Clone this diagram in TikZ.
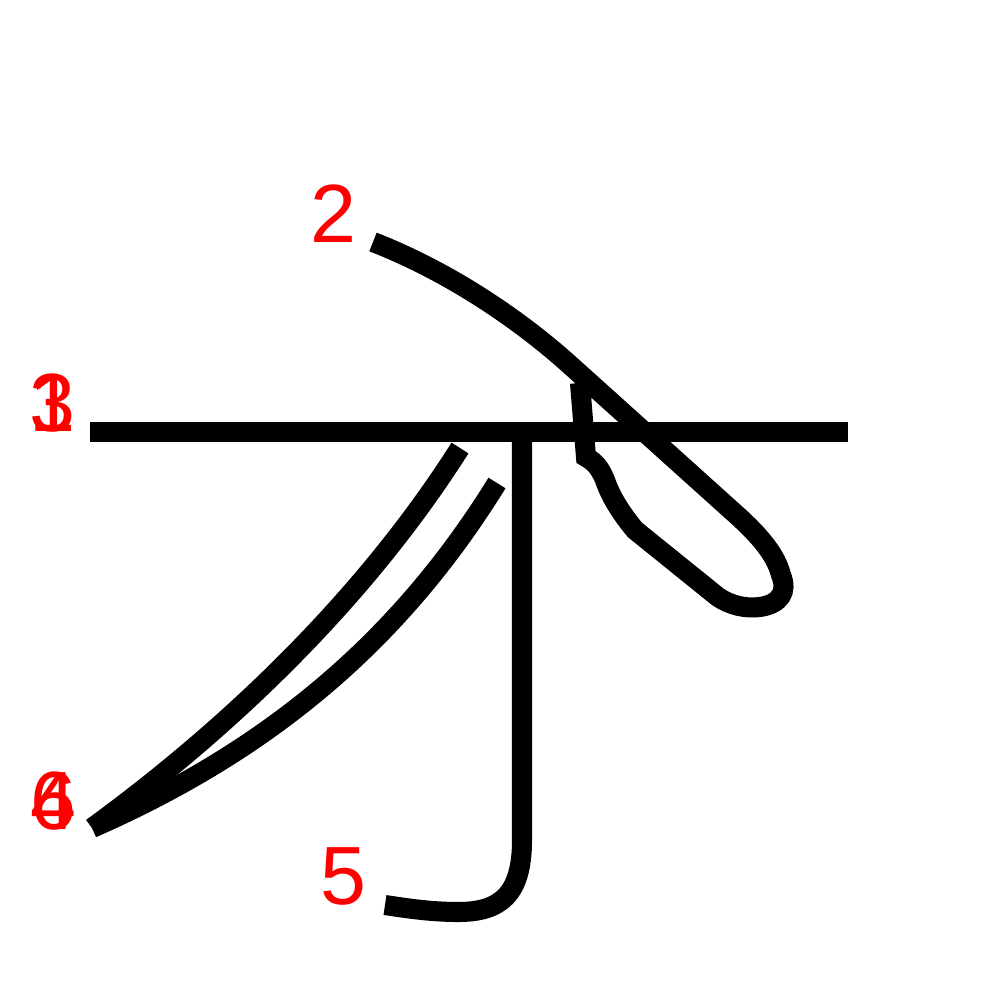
\documentclass[tikz,border=0pt]{standalone}
\usepackage{fontspec}
\setmainfont{Liberation Sans}
\usetikzlibrary{positioning}

\begin{document}
\begin{tikzpicture}[
  x=0.01cm, y=-0.01cm,
  stroke/.style={draw=black, line width=5.7pt, line cap=butt, line join=miter},
  num/.style={text=red, font=\fontsize{23.5}{23.5}\selectfont, inner sep=0pt}
]
\useasboundingbox (0,0) rectangle (1000,1000);

% --- Strokes 1 and 3 (same horizontal) ---
\draw[stroke] (90,432) -- (848,432);
\draw[stroke] (90,432) -- (848,432);

% --- Stroke 2 ---
\draw[stroke] (373,242) .. controls (450,272) and (520,320) .. (570,365)
  -- (740,518) .. controls (768,544) and (777,560) .. (781,575)
  .. controls (788,592) and (780,604) .. (760,607)
  .. controls (745,609) and (730,605) .. (718,597)
  -- (635,530) .. controls (620,512) and (610,495) .. (605,480)
  .. controls (600,468) and (595,462) .. (586,457) -- (580,383);

% --- Strokes 4 and 6 ---
\draw[stroke] (460,448) .. controls (370,590) and (240,720) .. (92,828);
\draw[stroke] (497,483) .. controls (400,640) and (270,750) .. (92,828);

% --- Stroke 5 ---
\draw[stroke] (522,440) -- (522,840) .. controls (522,895) and (500,912) .. (458,912)
  .. controls (430,912) and (405,908) .. (385,905);

% --- Stroke numbers ---
\node[num] (n1) at (52,403) {1};
\node[num] (n3) at (52,403) {3};
\node[num] (n2) at (333,214) {2};
\node[num] (n4) at (53,801) {4};
\node[num] (n6) at (53,801) {6};
\node[num] (n5) at (343,876) {5};

\end{tikzpicture}
\end{document}
